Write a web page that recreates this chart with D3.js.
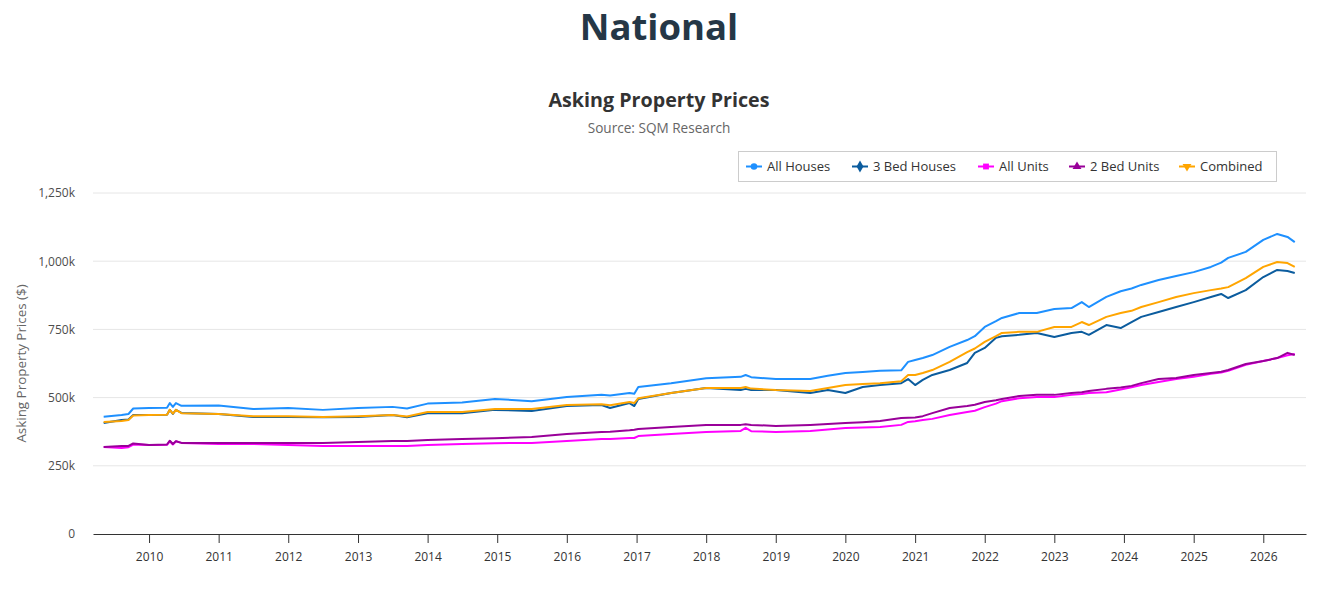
<!DOCTYPE html>
<html>
<head>
<meta charset="utf-8">
<script src="https://cdn.jsdelivr.net/npm/d3@7"></script>
<style>
  body { margin: 0; background: #fff; }
  svg { font-family: "Open Sans", "DejaVu Sans", sans-serif; }
</style>
</head>
<body>
<svg id="chart"></svg>
<script>
// weekly series read at roughly quarterly steps (plus the visible jumps)
let dates = [
  "2009-05-08", "2009-08-10", "2009-09-15", "2009-10-10", "2010-01-01",
  "2010-04-05", "2010-04-20", "2010-05-06", "2010-05-22", "2010-06-20",
  "2011-01-01", "2011-07-01", "2012-01-01", "2012-07-01", "2013-01-01",
  "2013-07-01", "2013-09-15", "2014-01-01", "2014-07-01", "2014-12-20",
  "2015-07-01", "2016-01-01", "2016-07-01", "2016-08-15", "2016-11-25",
  "2016-12-20", "2017-01-10", "2017-07-01", "2018-01-01", "2018-07-01",
  "2018-07-27", "2018-08-25", "2019-01-01", "2019-07-01", "2019-10-01",
  "2020-01-01", "2020-04-01", "2020-07-01", "2020-10-20", "2020-11-25",
  "2021-01-01", "2021-02-10", "2021-04-01", "2021-07-01", "2021-10-01",
  "2021-11-10", "2022-01-01", "2022-03-01", "2022-04-01", "2022-07-01",
  "2022-10-01", "2023-01-01", "2023-04-01", "2023-05-25", "2023-07-01",
  "2023-10-01", "2023-12-15", "2024-02-10", "2024-04-01", "2024-07-01",
  "2024-10-01", "2025-01-01", "2025-04-01", "2025-05-25", "2025-07-01",
  "2025-10-01", "2026-01-01", "2026-03-15", "2026-05-08", "2026-06-15"
];

// values in $k
let allHouses = [
  430, 436, 440, 460, 462, 463, 480, 466, 480, 470,
  471, 458, 462, 455, 462, 466, 460, 478, 482, 495,
  487, 502, 510, 508, 517, 514, 539, 553, 571, 576,
  583, 575, 568, 568, 580, 590, 594, 598, 600, 631,
  638, 645, 656, 686, 711, 725, 759, 780, 792, 810,
  810, 825, 828, 850, 832, 869, 890, 900, 913, 931,
  946, 960, 979, 995, 1012, 1034, 1078, 1100, 1089, 1070
];
let bed3Houses = [
  407, 418, 420, 436, 436, 437, 455, 440, 455, 444,
  440, 429, 429, 428, 429, 436, 428, 443, 443, 455,
  451, 469, 473, 462, 480, 469, 495, 517, 535, 528,
  532, 528, 528, 517, 528, 517, 539, 546, 553, 568,
  546, 565, 583, 601, 627, 664, 682, 719, 725, 730,
  737, 722, 737, 741, 730, 766, 755, 777, 796, 814,
  832, 850, 869, 880, 865, 894, 942, 968, 964, 957
];
let allUnits = [
  319, 315, 318, 328, 326, 327, 340, 328, 340, 334,
  330, 330, 326, 323, 323, 323, 323, 326, 330, 333,
  334, 341, 348, 348, 352, 352, 359, 367, 374, 378,
  389, 377, 374, 378, 383, 389, 390, 392, 400, 411,
  413, 418, 422, 436, 447, 452, 465, 478, 487, 498,
  502, 502, 510, 513, 517, 520, 530, 538, 546, 557,
  568, 576, 587, 592, 598, 620, 634, 645, 655, 660
];
let bed2Units = [
  319, 323, 323, 332, 326, 328, 342, 330, 340, 334,
  334, 334, 334, 334, 337, 341, 341, 345, 348, 351,
  356, 367, 374, 375, 380, 382, 385, 392, 400, 400,
  402, 400, 396, 400, 403, 407, 410, 414, 425, 426,
  427, 432, 443, 462, 469, 474, 484, 490, 495, 506,
  510, 510, 517, 520, 524, 532, 537, 543, 553, 568,
  572, 583, 590, 595, 601, 623, 634, 645, 664, 656
];
let combined = [
  411, 414, 418, 434, 436, 437, 455, 441, 455, 443,
  440, 432, 432, 429, 432, 436, 431, 447, 447, 458,
  458, 473, 476, 472, 484, 480, 498, 517, 535, 535,
  539, 533, 528, 524, 535, 546, 550, 553, 560, 583,
  583, 590, 601, 631, 667, 680, 704, 725, 737, 741,
  741, 759, 759, 777, 766, 796, 810, 818, 832, 850,
  869, 883, 894, 900, 905, 938, 979, 997, 993, 979
];

let seriesNames = ["All Houses", "3 Bed Houses", "All Units", "2 Bed Units", "Combined"];
let seriesColors = ["#1e90ff", "#0b5c9e", "#ff00ff", "#990099", "#ffa500"];
let seriesSymbols = [d3.symbolCircle, d3.symbolDiamond, d3.symbolSquare, d3.symbolTriangle, d3.symbolTriangle];
let yTicks = [0, 250000, 500000, 750000, 1000000, 1250000];

let parseDate = d3.timeParse("%Y-%m-%d");
let seriesValues = [allHouses, bed3Houses, allUnits, bed2Units, combined];
let series = seriesValues.map((vals, s) => ({
  name: seriesNames[s],
  color: seriesColors[s],
  points: vals.map((v, i) => ({ date: parseDate(dates[i]), value: v * 1000 }))
}));

let width = 1326,
  height = 605,
  plotLeft = 93,
  plotRight = 1306,
  plotTop = 193,
  plotBottom = 534;

let svg = d3.select("#chart")
  .attr("width", width)
  .attr("height", height);

let xScale = d3.scaleTime()
  .domain([new Date(2009, 2, 13), new Date(2026, 7, 13)])
  .range([plotLeft, plotRight]);

let yScale = d3.scaleLinear()
  .domain([0, 1250000])
  .range([plotBottom, plotTop]);

// titles
svg.append("text")
  .attr("x", 659).attr("y", 40)
  .attr("text-anchor", "middle")
  .style("font-size", "36.5px").style("font-weight", 700)
  .attr("fill", "#253746")
  .text("National");

svg.append("text")
  .attr("x", 659).attr("y", 107)
  .attr("text-anchor", "middle")
  .style("font-size", "19.7px").style("font-weight", 700)
  .attr("fill", "#333333")
  .text("Asking Property Prices");

svg.append("text")
  .attr("x", 659).attr("y", 133)
  .attr("text-anchor", "middle")
  .style("font-size", "13.6px")
  .attr("fill", "#666666")
  .text("Source: SQM Research");

// grid
svg.append("g")
  .selectAll("line")
  .data(yTicks.filter(d => d > 0))
  .enter()
  .append("line")
  .attr("x1", plotLeft).attr("x2", plotRight)
  .attr("y1", d => yScale(d)).attr("y2", d => yScale(d))
  .attr("stroke", "#e6e6e6");

let y_axis = d3.axisLeft(yScale)
  .tickValues(yTicks)
  .tickSize(0)
  .tickPadding(18)
  .tickFormat(d => d === 0 ? "0" : d3.format(",")(d / 1000) + "k");

svg.append("g")
  .attr("transform", "translate(" + plotLeft + ",0)")
  .call(y_axis)
  .call(g => g.select(".domain").remove())
  .selectAll("text")
  .style("font-size", "12px")
  .style("font-family", "Open Sans, sans-serif")
  .attr("fill", "#4d4d4d");

let x_axis = d3.axisBottom(xScale)
  .ticks(d3.timeYear.every(1))
  .tickFormat(d3.timeFormat("%Y"))
  .tickSize(9)
  .tickSizeOuter(0)
  .tickPadding(9);

let xg = svg.append("g")
  .attr("transform", "translate(0," + plotBottom + ")")
  .call(x_axis);
xg.select(".domain").attr("stroke", "#333333");
xg.selectAll(".tick line").attr("stroke", "#333333");
xg.selectAll("text")
  .style("font-size", "12px")
  .style("font-family", "Open Sans, sans-serif")
  .attr("fill", "#333333");

svg.append("text")
  .attr("transform", "translate(26," + (plotTop + plotBottom) / 2 + ") rotate(-90)")
  .attr("text-anchor", "middle")
  .style("font-size", "13.4px")
  .attr("fill", "#666666")
  .text("Asking Property Prices ($)");

// lines
let line = d3.line()
  .x(d => xScale(d.date))
  .y(d => yScale(d.value));

svg.append("g")
  .selectAll("path")
  .data(series)
  .enter()
  .append("path")
  .attr("d", d => line(d.points))
  .attr("fill", "none")
  .attr("stroke", d => d.color)
  .attr("stroke-width", 2)
  .attr("stroke-linejoin", "round");

// legend
let legendX = [746, 852, 978, 1069, 1179];
let legend = svg.append("g");
legend.append("rect")
  .attr("x", 738.5).attr("y", 151.5)
  .attr("width", 538).attr("height", 30)
  .attr("fill", "#fff")
  .attr("stroke", "#cccccc");

let items = legend.selectAll("g.item")
  .data(series)
  .enter()
  .append("g")
  .attr("class", "item")
  .attr("transform", (d, i) => "translate(" + legendX[i] + ",166.5)");

items.append("line")
  .attr("x1", 0).attr("x2", 16)
  .attr("stroke", d => d.color)
  .attr("stroke-width", 2);

items.append("path")
  .attr("transform", (d, i) => "translate(8,0)" + (i === 4 ? " rotate(180)" : ""))
  .attr("d", (d, i) => d3.symbol().type(seriesSymbols[i]).size(i === 1 ? 40 : 34)())
  .attr("fill", d => d.color);

items.append("text")
  .attr("x", 21).attr("y", 4.5)
  .style("font-size", "13px")
  .attr("fill", "#333333")
  .text(d => d.name);
</script>
</body>
</html>
